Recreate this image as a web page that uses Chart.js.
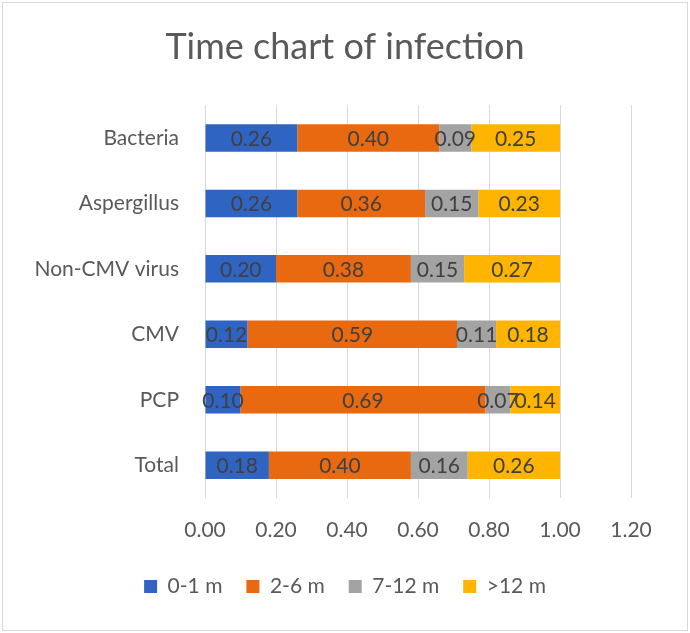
<!DOCTYPE html>
<html>
<head>
<meta charset="utf-8">
<script src="https://cdn.jsdelivr.net/npm/chart.js@4"></script>
<style>
html,body{margin:0;padding:0;background:#fff;}
#wrap{position:relative;width:690px;height:633px;}
#frame{position:absolute;left:2px;top:2px;width:684px;height:627px;border:1px solid #d9d9d9;pointer-events:none;}
</style>
</head>
<body>
<div id="wrap"><canvas id="c" width="690" height="633"></canvas><div id="frame"></div></div>
<script>
const categories = ["Bacteria", "Aspergillus", "Non-CMV virus", "CMV", "PCP", "Total"];
const seriesNames = ["0-1 m", "2-6 m", "7-12 m", ">12 m"];
const s01 = [0.26, 0.26, 0.20, 0.12, 0.10, 0.18];
const s26 = [0.40, 0.36, 0.38, 0.59, 0.69, 0.40];
const s712 = [0.09, 0.15, 0.15, 0.11, 0.07, 0.16];
const s12p = [0.25, 0.23, 0.27, 0.18, 0.14, 0.26];
const xTicks = [0, 0.2, 0.4, 0.6, 0.8, 1.0, 1.2];
const colors = ["#2F64C2", "#E8690F", "#A3A3A3", "#FFB500"];

const FONT = "Lato, 'Open Sans', sans-serif";

const labelPlugin = {
  id: 'barLabels',
  afterDatasetsDraw(chart) {
    const ctx = chart.ctx;
    ctx.save();
    ctx.font = "21px " + FONT;
    ctx.fillStyle = "#404040";
    ctx.textAlign = "center";
    ctx.textBaseline = "middle";
    chart.data.datasets.forEach((ds, i) => {
      const meta = chart.getDatasetMeta(i);
      meta.data.forEach((el, j) => {
        const cx = (el.x + el.base) / 2;
        ctx.fillText(ds.data[j].toFixed(2), cx, el.y + 1);
      });
    });
    ctx.restore();
  }
};

new Chart(document.getElementById('c'), {
  type: 'bar',
  data: {
    labels: categories,
    datasets: [
      {label: seriesNames[0], data: s01, backgroundColor: colors[0]},
      {label: seriesNames[1], data: s26, backgroundColor: colors[1]},
      {label: seriesNames[2], data: s712, backgroundColor: colors[2]},
      {label: seriesNames[3], data: s12p, backgroundColor: colors[3]}
    ]
  },
  options: {
    indexAxis: 'y',
    responsive: false,
    animation: false,
    datasets: {bar: {categoryPercentage: 1.0, barPercentage: 0.42}},
    layout: {padding: {left: 0, right: 0, top: 0, bottom: 26}},
    scales: {
      x: {
        stacked: true, min: 0, max: 1.2,
        afterBuildTicks(axis) { axis.ticks = xTicks.map(v => ({value: v})); },
        grid: {color: "#d9d9d9", drawTicks: false, lineWidth: 1},
        border: {display: false},
        ticks: {font: {family: FONT, size: 21}, color: "#595959", padding: 20,
                callback: v => Number(v).toFixed(2)},
        afterFit(axis) { axis.height = 54; }
      },
      y: {
        stacked: true,
        grid: {display: false},
        border: {display: false},
        ticks: {font: {family: FONT, size: 21}, color: "#595959", padding: 18},
        afterFit(axis) { axis.width = 205; }
      },
      yPad: {
        type: 'category', position: 'right', display: true,
        grid: {display: false}, border: {display: false},
        ticks: {display: false},
        afterFit(axis) { axis.width = 59; }
      }
    },
    plugins: {
      title: {display: true, text: "Time chart of infection",
              font: {family: FONT, size: 36, weight: 'normal'}, color: "#595959",
              padding: {top: 26, bottom: 36}},
      legend: {position: 'bottom',
               labels: {font: {family: FONT, size: 21}, color: "#595959",
                        boxWidth: 13, boxHeight: 13, padding: 24}},
      tooltip: {enabled: false}
    }
  },
  plugins: [labelPlugin]
});
</script>
</body>
</html>
